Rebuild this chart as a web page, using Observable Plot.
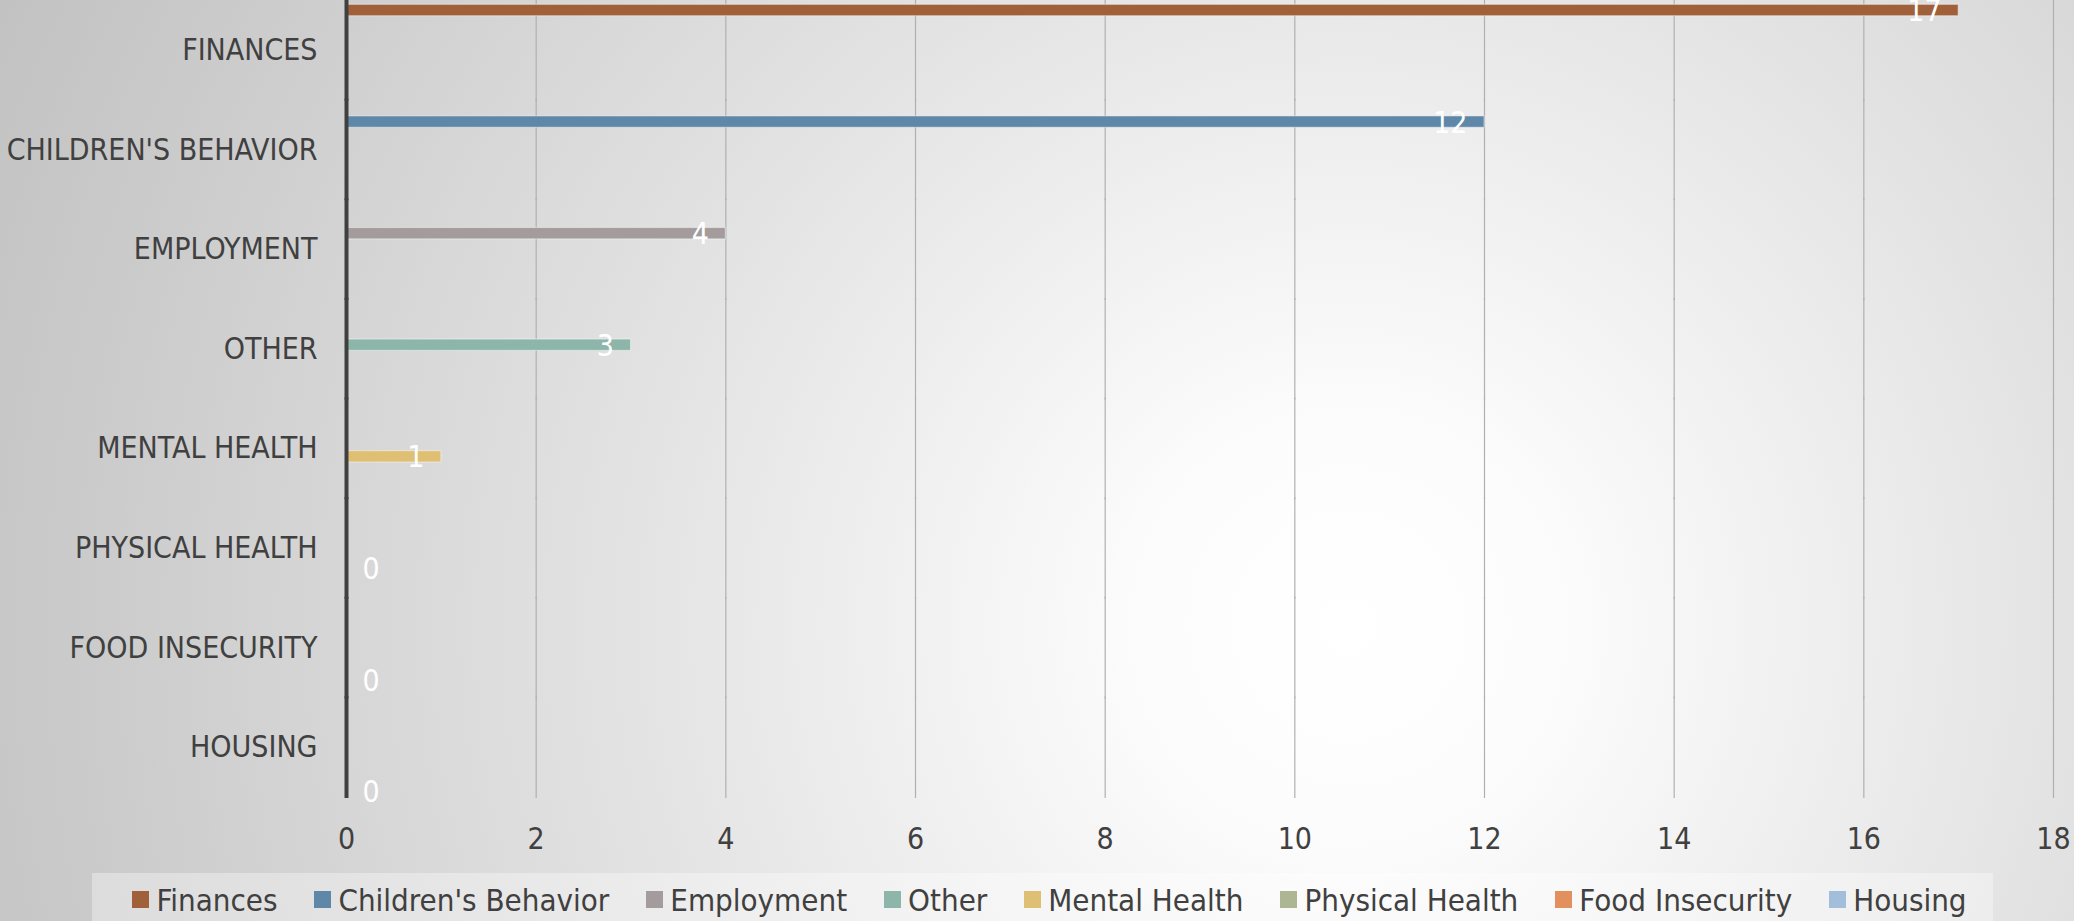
<!DOCTYPE html>
<html>
<head>
<meta charset="utf-8">
<script src="https://cdn.jsdelivr.net/npm/d3@7"></script>
<script src="https://cdn.jsdelivr.net/npm/@observablehq/plot@0.6"></script>
<style>
  html, body { margin: 0; padding: 0; }
  body {
    width: 2074px; height: 921px; overflow: hidden; position: relative;
    background: radial-gradient(circle farthest-corner at 65% 68%, #ffffff 0%, #fcfcfc 14%, #e2e2e2 50%, #cbcbcb 85%, #c2c2c2 100%);
    font-family: "DejaVu Sans Condensed", "DejaVu Sans", sans-serif;
    font-stretch: condensed;
  }
  #chart { position: absolute; left: 0; top: 0; }
  #legend {
    position: absolute; left: 92px; top: 873px; width: 1901px; height: 60px;
    background: rgba(255,255,255,0.35);
  }
  #legend .lg-swatches-wrap { justify-content: center; height: 53px; min-height: 53px; margin: 0; padding-left: 14px; box-sizing: border-box; }
  #legend .lg-swatches-wrap .lg-swatch { margin-right: 37px; }
  #legend .lg-swatches-wrap .lg-swatch:last-child { margin-right: 0; }
  #legend .lg-swatch > svg { margin-right: 7px; }
</style>
</head>
<body>
<div id="chart"></div>
<div id="legend"></div>
<script>
const categories = ["FINANCES", "CHILDREN'S BEHAVIOR", "EMPLOYMENT", "OTHER", "MENTAL HEALTH", "PHYSICAL HEALTH", "FOOD INSECURITY", "HOUSING"];
const series = ["Finances", "Children's Behavior", "Employment", "Other", "Mental Health", "Physical Health", "Food Insecurity", "Housing"];
const values = [17, 12, 4, 3, 1, 0, 0, 0];
const colors = ["#A0603A", "#5E87A8", "#A49C9C", "#8DB5A9", "#DFBF74", "#ADB692", "#E1905E", "#A2BEDA"];
const tickValues = [0, 2, 4, 6, 8, 10, 12, 14, 16, 18];

const rows = categories.map((c, i) => ({category: c, series: series[i], value: values[i]}));
const font = "\"DejaVu Sans Condensed\", \"DejaVu Sans\", sans-serif";

const chart = Plot.plot({
  width: 2074,
  height: 860,
  marginLeft: 346,
  marginRight: 21,
  marginTop: 0,
  marginBottom: 63,
  style: {background: "transparent", color: "#404040", fontSize: "30px", fontFamily: font, fontStretch: "condensed", overflow: "visible"},
  facet: {data: rows, y: "category"},
  fy: {domain: categories, padding: 0, round: false, axis: "left", label: null, tickSize: 0, tickPadding: 29},
  y: {domain: series, axis: null, round: false, paddingInner: 0, paddingOuter: 0.17, align: 1},
  x: {domain: [0, 18], ticks: tickValues, tickSize: 0, tickPadding: 30, label: null, tickFormat: d => String(d)},
  color: {type: "ordinal", domain: series, range: colors},
  marks: [
    Plot.ruleX(tickValues.filter(v => v > 0), {stroke: "#b0b0b0", strokeWidth: 1.2, insetTop: -1, insetBottom: -1}),
    Plot.barX(rows, {y: "series", x: "value", fill: "series", stroke: "white", strokeOpacity: 0.4, strokeWidth: 1.2, insetTop: 0.3, insetBottom: 0.3}),
    Plot.ruleX([0], {stroke: "#404040", strokeWidth: 4, insetTop: -1, insetBottom: -1}),
    Plot.text(rows, {filter: d => d.value > 0, y: "series", x: "value", text: d => String(d.value), fill: "white", textAnchor: "end", dx: -17, dy: 1, fontSize: 30}),
    Plot.text(rows, {filter: d => d.value === 0, y: "series", x: "value", text: d => String(d.value), fill: "white", textAnchor: "start", dx: 16, dy: 1, fontSize: 30})
  ]
});
document.getElementById("chart").appendChild(chart);

const legend = Plot.legend({
  color: {type: "ordinal", domain: series, range: colors},
  swatchSize: 17,
  className: "lg",
  style: {fontFamily: font, fontStretch: "condensed", fontSize: "31px", color: "#404040", background: "transparent"}
});
document.getElementById("legend").appendChild(legend);
</script>
</body>
</html>
